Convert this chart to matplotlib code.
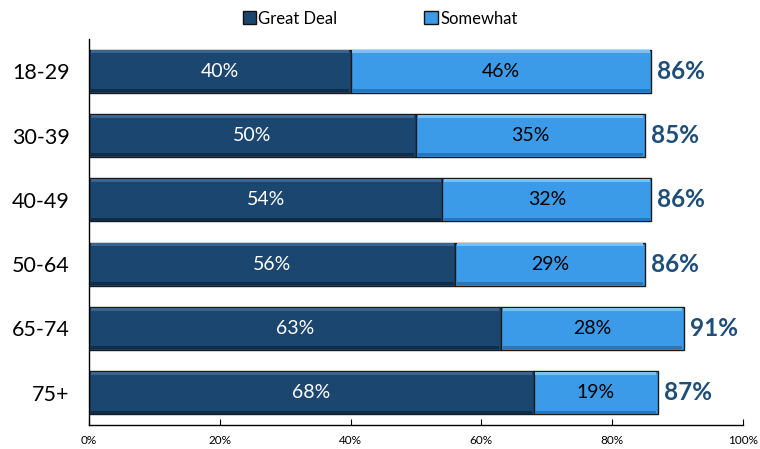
import matplotlib
matplotlib.use("Agg")
import matplotlib.pyplot as plt
from matplotlib.patches import Patch
from matplotlib.ticker import FuncFormatter

categories = ["18-29", "30-39", "40-49", "50-64", "65-74", "75+"]
great_deal = [40, 50, 54, 56, 63, 68]
somewhat = [46, 35, 32, 29, 28, 19]
totals = [86, 85, 86, 86, 91, 87]
series_names = ["Great Deal", "Somewhat"]
x_ticks = [0, 20, 40, 60, 80, 100]

dark = "#1B4670"
light = "#3C9BE8"
total_color = "#1F4E79"
font = ["Lato", "DejaVu Sans"]

plt.rcParams["font.family"] = font

fig = plt.figure(figsize=(7.6, 4.49), dpi=100)
ax = fig.add_axes([0.1171, 0.0535, 0.8605, 0.8596])

y = list(range(len(categories)))
h = 0.67


def bevel_bar(left, width, color, hi, lo):
    ax.barh(y, width, left=left, height=h, color=color,
            edgecolor="#1a1a1a", linewidth=1.0, zorder=2)
    # light top edge and dark bottom edge for a raised look
    ax.barh([v - h / 2 + 0.035 for v in y], [w - 0.5 for w in width],
            left=[l + 0.25 for l in left], height=0.05, color=hi,
            linewidth=0, zorder=3)
    ax.barh([v + h / 2 - 0.035 for v in y], [w - 0.5 for w in width],
            left=[l + 0.25 for l in left], height=0.05, color=lo,
            linewidth=0, zorder=3)


bevel_bar([0] * len(y), great_deal, dark, "#3a6590", "#0f2c48")
bevel_bar(great_deal, somewhat, light, "#7cc0f3", "#2a75b5")

for i in y:
    ax.text(great_deal[i] / 2, i, f"{great_deal[i]}%", ha="center",
            va="center", color="white", fontsize=14, zorder=4)
    ax.text(great_deal[i] + somewhat[i] / 2, i, f"{somewhat[i]}%",
            ha="center", va="center", color="black", fontsize=14, zorder=4)
    ax.text(great_deal[i] + somewhat[i] + 0.9, i, f"{totals[i]}%",
            ha="left", va="center", color=total_color, fontsize=17.5,
            fontweight="bold", zorder=4)

ax.set_xlim(0, 100)
ax.set_ylim(len(categories) - 0.5, -0.5)
ax.set_xticks(x_ticks)
ax.xaxis.set_major_formatter(FuncFormatter(lambda v, _: f"{v:.0f}%"))
ax.tick_params(axis="x", direction="in", length=4, labelsize=8.5, pad=7)
ax.set_yticks(y)
ax.set_yticklabels(categories, fontsize=15.5)
ax.tick_params(axis="y", length=0, pad=14)
for s in ("top", "right"):
    ax.spines[s].set_visible(False)
ax.spines["left"].set_linewidth(1.0)
ax.spines["bottom"].set_linewidth(1.0)

handles = [Patch(facecolor=dark, edgecolor="#111111"),
           Patch(facecolor=light, edgecolor="#111111")]
fig.legend(handles, series_names, loc="upper center",
           bbox_to_anchor=(0.5, 1.01), ncol=2, frameon=False,
           fontsize=12, handlelength=0.8, handleheight=0.8,
           handletextpad=0.15, columnspacing=5.2)

fig.savefig("out.png", dpi=100)
